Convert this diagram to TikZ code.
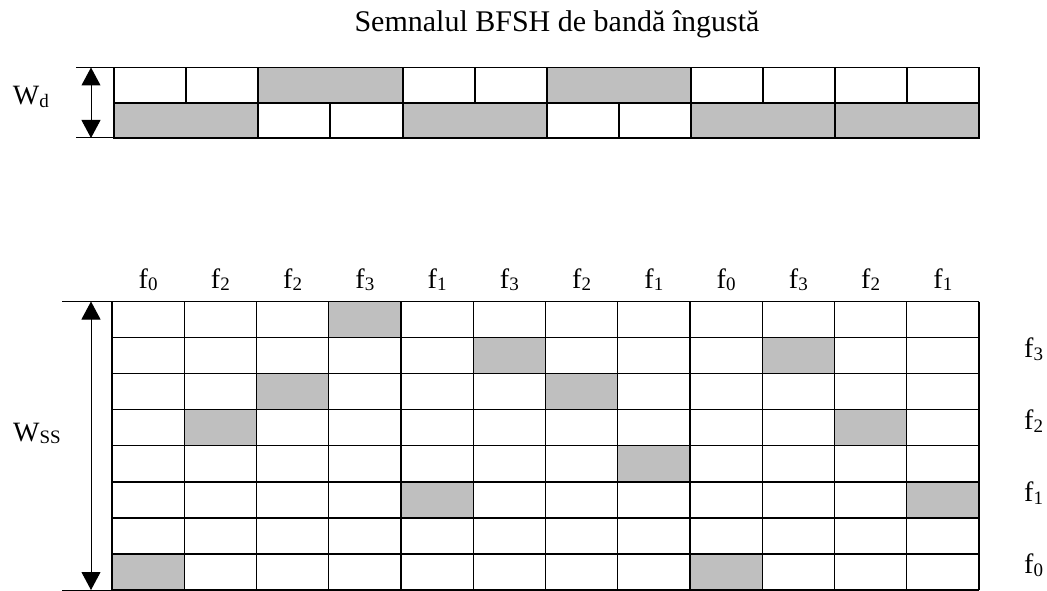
\documentclass[tikz,border=0pt]{standalone}
\usepackage{fontspec}
\setmainfont{Liberation Serif}
\usetikzlibrary{arrows.meta}
\newcommand\sbs[1]{\raisebox{-0.1em}{\fontsize{19}{19}\selectfont #1}}
\begin{document}
\begin{tikzpicture}[x=1pt,y=-1pt,
  cell/.style={draw=black,line width=1.4pt},
  graycell/.style={cell,fill=black!25},
  lbl/.style={font=\fontsize{28}{32}\selectfont,inner sep=0pt},
  ttl/.style={font=\fontsize{30}{34}\selectfont,inner sep=0pt},
  dim/.style={line width=1pt,{Triangle[width=19pt,length=18pt]}-{Triangle[width=19pt,length=18pt]}},
  tickline/.style={line width=1pt}]
\useasboundingbox (0,0) rectangle (1047,591);
% title
\node[ttl,anchor=base] (title) at (557,31.5) {Semnalul BFSH de bandă îngustă};
% top strip
\foreach \a/\b/\g in {114/186/0,186/258/0,258/403/1,403/475/0,475/547/0,547/691/1,691/763/0,763/835/0,835/907/0,907/979/0}{
  \ifnum\g=1 \draw[graycell] (\a,67.5) rectangle (\b,103); \else \draw[cell] (\a,67.5) rectangle (\b,103); \fi
}
\foreach \a/\b/\g in {114/258/1,258/330/0,330/403/0,403/547/1,547/619/0,619/691/0,691/835/1,835/979/1}{
  \ifnum\g=1 \draw[graycell] (\a,103) rectangle (\b,138); \else \draw[cell] (\a,103) rectangle (\b,138); \fi
}
\coordinate (wdtl) at (76,67.5);
\coordinate (wdtr) at (114,67.5);
\coordinate (wdbl) at (76,138);
\coordinate (wdbr) at (114,138);
\draw[tickline] (wdtl) -- (wdtr);
\draw[tickline] (wdbl) -- (wdbr);
\coordinate (wdt) at (91,67.5);
\coordinate (wdb) at (91,138);
\draw[dim] (wdt) -- (wdb);
\node[lbl,anchor=base east] (wd) at (49,105) {W\sbs{d}};
% bottom grid
\def\gx{112}\def\gw{72.25}\def\gy{301.5}\def\gh{36.06}
\foreach \r/\c in {0/3,1/5,1/9,2/2,2/6,3/1,3/10,4/7,5/4,5/11,7/0,7/8}{
  \fill[black!25] ({\gx+\c*\gw},{\gy+\r*\gh}) rectangle ({\gx+(\c+1)*\gw},{\gy+(\r+1)*\gh});
}
\foreach \c in {0,...,12}{
  \draw[line width=1.4pt] ({\gx+\c*\gw},\gy) -- ({\gx+\c*\gw},{\gy+8*\gh});
}
\foreach \r in {0,...,8}{
  \draw[line width=1.4pt] (\gx,{\gy+\r*\gh}) -- ({\gx+12*\gw},{\gy+\r*\gh});
}
\foreach \i/\f in {0/0,1/2,2/2,3/3,4/1,5/3,6/2,7/1,8/0,9/3,10/2,11/1}{
  \node[lbl,anchor=base] (c\i) at ({\gx+(\i+0.5)*\gw},288) {f\sbs{\f}};
}
\foreach \r/\f in {1/3,3/2,5/1,7/0}{
  \node[lbl,anchor=base west] (r\f) at (1024,{\gy+(\r+0.5)*\gh+2}) {f\sbs{\f}};
}
\coordinate (wstl) at (62,301.5);
\coordinate (wstr) at (127,301.5);
\coordinate (wsbl) at (62,590);
\coordinate (wsbr) at (112,590);
\draw[tickline] (wstl) -- (wstr);
\draw[tickline] (wsbl) -- (wsbr);
\coordinate (wst) at (91,301.5);
\coordinate (wsb) at (91,590);
\draw[dim] (wst) -- (wsb);
\node[lbl,anchor=base east] (wss) at (61,441) {W\sbs{SS}};
\end{tikzpicture}
\end{document}
